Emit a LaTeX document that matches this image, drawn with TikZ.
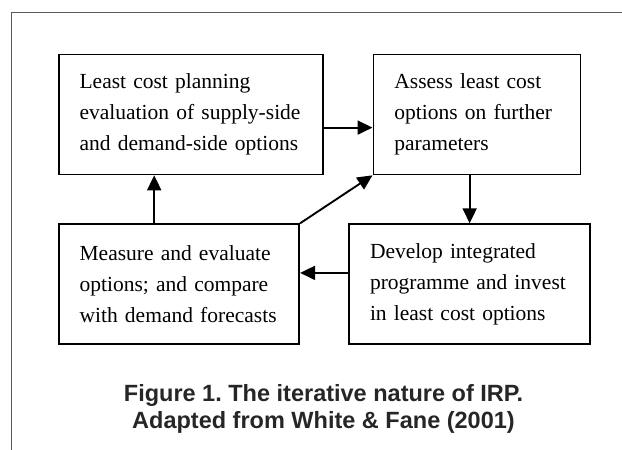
\documentclass[tikz,border=0pt]{standalone}
\usepackage{fontspec}
\setmainfont{Liberation Serif}
\newfontfamily\capfont{Liberation Sans}
\usetikzlibrary{arrows.meta,positioning}
\frenchspacing

\tikzset{
  stage/.style={draw,line width=1.8pt,align=left,inner xsep=21pt,inner ysep=0pt,
    minimum height=120pt,font=\fontsize{21.5}{31}\selectfont},
  flow/.style={-{Triangle[length=15pt,width=14pt]},line width=1.9pt},
}

\begin{document}
\begin{tikzpicture}[x=1pt,y=-1pt]
  \useasboundingbox (0,0) rectangle (622,450);

  % open frame round the figure
  \draw[line width=1pt,gray!70!black] (622,12) -- (11.7,12) -- (11.7,450);

  \node[stage,text width=222pt,anchor=north west] (plan) at (57.7,53.5)
    {Least cost planning\\evaluation of supply-side\\and demand-side options};
  \node[stage,text width=165pt,right=49pt of plan] (assess)
    {Assess least cost\\options on further\\parameters};
  \node[stage,text width=198.6pt,below=48pt of plan.south west,anchor=north west] (measure)
    {Measure and evaluate\\options; and compare\\with demand forecasts};
  \node[stage,text width=199.3pt,right=48pt of measure] (develop)
    {Develop integrated\\programme and invest\\in least cost options};

  \draw[flow] ([yshift=-13.2pt]plan.east) -- ([yshift=-13.2pt]plan.east -| assess.west);
  \draw[flow] (develop.north |- assess.south) -- (develop.north);
  \draw[flow] ([yshift=11.3pt]develop.west) -- ([yshift=11.3pt]develop.west -| measure.east);
  \draw[flow] ([xshift=-24.7pt]measure.north) -- ([xshift=-24.7pt]measure.north |- plan.south);
  \draw[flow] (measure.north east) -- (assess.south west);

  \node[font=\capfont\bfseries\fontsize{23.5}{27.5}\selectfont,text=black!85,align=center,inner sep=0pt]
    (caption) at (323.5,409)
    {Figure 1. The iterative nature of IRP.\\Adapted from White \& Fane (2001)};
\end{tikzpicture}
\end{document}
